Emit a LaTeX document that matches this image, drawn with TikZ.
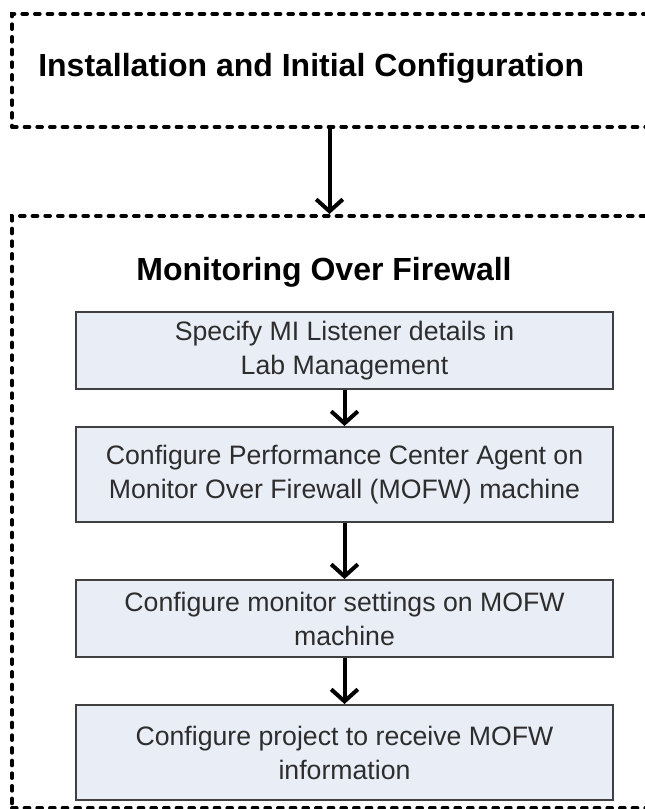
\documentclass[tikz,border=0pt]{standalone}
\usepackage{fontspec}
\setmainfont{Liberation Sans}
\usetikzlibrary{arrows.meta,positioning}
\definecolor{MofwFill}{RGB}{233,237,246}
\definecolor{MofwLine}{RGB}{64,64,64}
\definecolor{MofwText}{RGB}{45,45,45}
\tikzset{
  mofw/frame/.style={
    draw=black,
    line width=3pt,
    dash pattern=on 3.5pt off 6pt,
    line cap=round,
    inner sep=0pt
  },
  mofw/box/.style={
    draw=MofwLine,
    line width=1.5pt,
    fill=MofwFill,
    align=center,
    text=MofwText,
    minimum width=402.75pt,
    inner sep=0pt,
    font=\fontsize{20}{25.5}\selectfont
  },
  mofw/title/.style={font=\fontsize{24}{29}\selectfont\bfseries, text=black, inner sep=0pt},
  mofw/arrow/.style={-{Straight Barb[length=9pt,width=20pt]}, line width=3pt, draw=black}
}

\begin{document}
\begin{tikzpicture}[x=0.75pt,y=-0.75pt]
  \useasboundingbox (0,0) rectangle (644,809);
  \node[mofw/frame,minimum width=476.25pt,minimum height=84.75pt] (install) at (329.5,70.5) {};
  \node[mofw/title,anchor=west] (installtitle) at (38,68) {Installation and Initial Configuration};
  \node[mofw/frame,minimum width=476.25pt,minimum height=444pt] (mofw) at (329.5,512) {};
  \node[mofw/title] (mofwtitle) at (324,272) {Monitoring Over Firewall};
  \node[mofw/box,minimum height=57.75pt] (s1) at (344.5,350.5) {Specify MI Listener details in\\Lab Management};
  \node[mofw/box,minimum height=71.25pt] (s2) at (344.5,474.5) {Configure Performance Center Agent on\\Monitor Over Firewall (MOFW) machine};
  \node[mofw/box,minimum height=57.75pt] (s3) at (344.5,618.5) {Configure monitor settings on MOFW\\machine};
  \node[mofw/box,minimum height=71.25pt] (s4) at (344.5,752.5) {Configure project to receive MOFW\\information};
  \draw[mofw/arrow] (install) -- (mofw);
  \draw[mofw/arrow] (s1) -- (s2);
  \draw[mofw/arrow] (s2) -- (s3);
  \draw[mofw/arrow] (s3) -- (s4);
\end{tikzpicture}
\end{document}
